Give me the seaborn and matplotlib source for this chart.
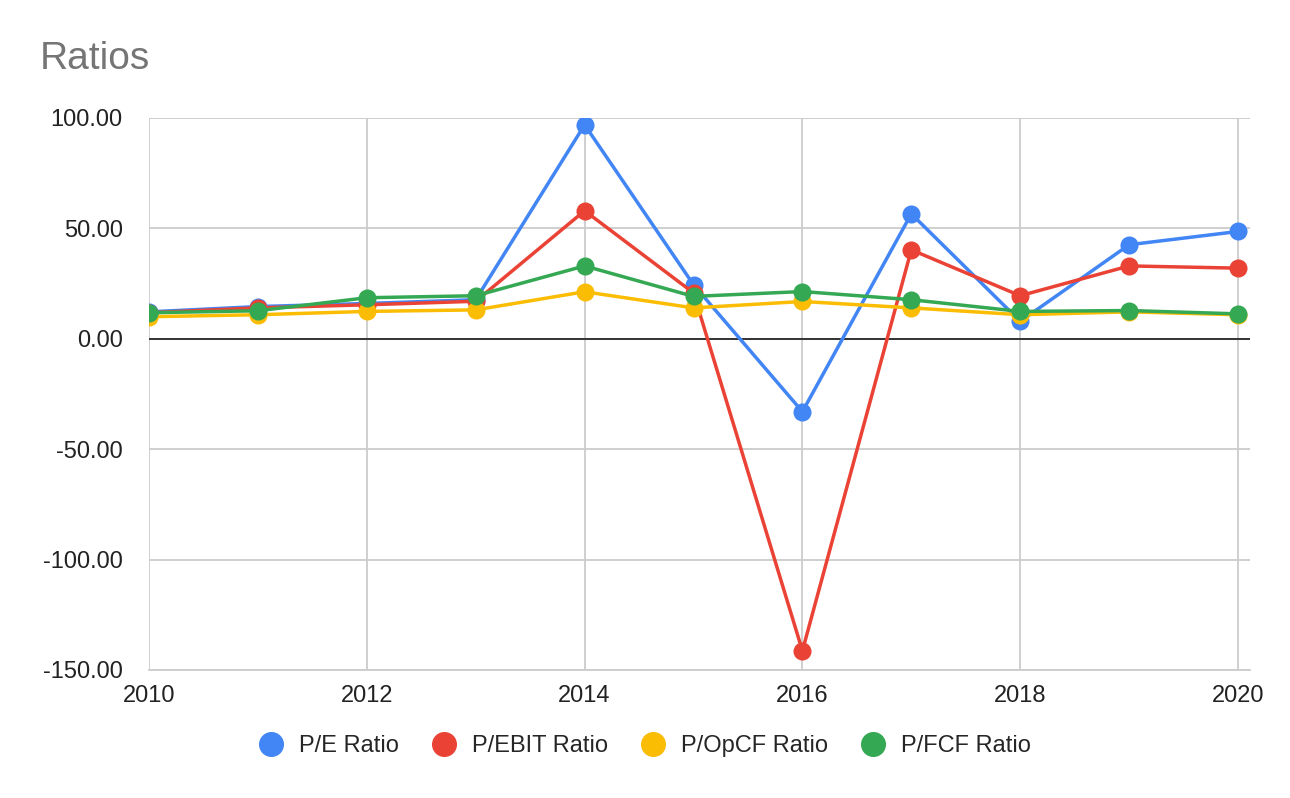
import seaborn as sns
import matplotlib.pyplot as plt
import pandas as pd

years = list(range(2010, 2021))
pe_ratio = [12.2, 14.6, 16.0, 17.7, 96.9, 24.5, -33.0, 56.6, 7.9, 42.6, 48.6]
pebit_ratio = [11.8, 14.0, 15.4, 17.0, 58.0, 20.8, -141.3, 40.3, 19.5, 33.0, 32.0]
popcf_ratio = [10.0, 10.9, 12.4, 13.1, 21.3, 14.0, 16.9, 14.0, 10.9, 12.2, 10.9]
pfcf_ratio = [11.8, 12.7, 18.6, 19.5, 33.0, 19.2, 21.4, 17.7, 12.4, 12.8, 11.3]

series_names = ["P/E Ratio", "P/EBIT Ratio", "P/OpCF Ratio", "P/FCF Ratio"]
colors = ["#4285F4", "#EA4335", "#FBBC04", "#34A853"]

df = pd.DataFrame({
    "year": years * 4,
    "value": pe_ratio + pebit_ratio + popcf_ratio + pfcf_ratio,
    "series": [n for n in series_names for _ in years],
})

sns.set_style("white")
plt.rcParams['font.family'] = ['Liberation Sans', 'DejaVu Sans']

fig = plt.figure(figsize=(12.9, 7.98), dpi=100)
ax = fig.add_axes([149 / 1290, (798 - 670) / 798, (1250 - 149) / 1290, 552 / 798])

sns.lineplot(data=df, x="year", y="value", hue="series", hue_order=series_names,
             palette=colors, marker="o", markersize=13, markeredgewidth=0,
             linewidth=2.5, ax=ax, legend=False, zorder=3)

ax.set_xlim(2010, 2020.11)
ax.set_ylim(-150, 100)
ax.set_xticks([2010, 2012, 2014, 2016, 2018, 2020])
ax.set_yticks([-150, -100, -50, 0, 50, 100])
ax.set_yticklabels([f"{v:.2f}" for v in [-150, -100, -50, 0, 50, 100]])
ax.grid(True, color="#cccccc", linewidth=1.3)
ax.axhline(0, color="#333333", linewidth=1.4, zorder=2)
for s in ["top", "right", "left"]:
    ax.spines[s].set_visible(False)
ax.spines["bottom"].set_color("#cccccc")
ax.spines["bottom"].set_linewidth(1.3)
ax.tick_params(axis="both", length=0, labelsize=17, colors="#222222")
ax.tick_params(axis="y", pad=19)
ax.tick_params(axis="x", pad=11)
ax.set_xlabel("")
ax.set_ylabel("")

fig.text(40 / 1290, 1 - 59 / 798, "Ratios", fontsize=28, color="#757575", va="center")

handles = [plt.Line2D([], [], marker="o", linestyle="", color=c, markersize=17)
           for c in colors]
fig.legend(handles, series_names, loc="center", bbox_to_anchor=(0.5, 1 - 746 / 798),
           ncol=4, frameon=False, fontsize=17, handlelength=1.0,
           handletextpad=0.7, columnspacing=1.4)

fig.savefig("out.png", dpi=100)
